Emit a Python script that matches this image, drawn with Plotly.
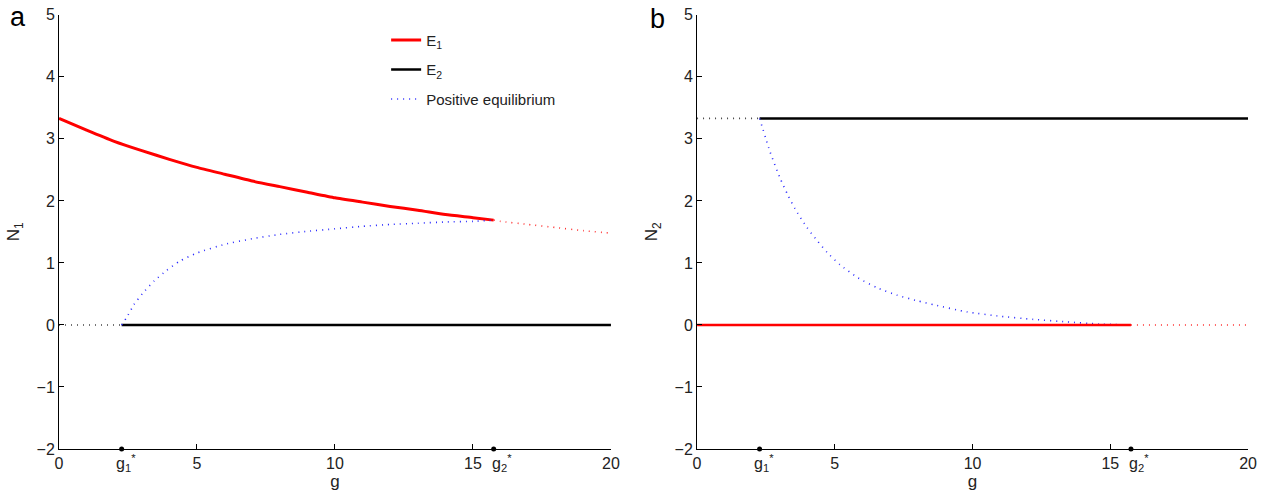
import plotly.graph_objects as go
from plotly.subplots import make_subplots

# critical values
g1_star = 2.27
g2_star = 15.75

# ---- panel a (N1) ----
a_E1_g = [0, 1, 2, 3, 4, 5, 6, 7, 8, 9, 10, 11, 12, 13, 14, 15, 15.75]
a_E1_N = [3.33, 3.14, 2.96, 2.81, 2.67, 2.54, 2.43, 2.32, 2.23, 2.14, 2.05, 1.98, 1.91, 1.85, 1.78, 1.73, 1.69]
a_E1u_g = [15.75, 16, 17, 18, 19, 20]
a_E1u_N = [1.69, 1.67, 1.62, 1.57, 1.52, 1.48]
a_E2_g = [2.27, 20]
a_E2_N = [0, 0]
a_E2u_g = [0, 2.27]
a_E2u_N = [0, 0]
a_P_g = [2.27, 2.45, 2.72, 3.03, 3.45, 3.9, 4.38, 5, 6, 7, 8, 9, 10, 11, 12, 13, 14, 15, 15.75]
a_P_N = [0, 0.12, 0.33, 0.51, 0.71, 0.88, 1.03, 1.16, 1.3, 1.39, 1.46, 1.51, 1.55, 1.59, 1.62, 1.64, 1.66, 1.67, 1.69]

# ---- panel b (N2) ----
b_E2_g = [2.27, 20]
b_E2_N = [3.33, 3.33]
b_E2u_g = [0, 2.27]
b_E2u_N = [3.33, 3.33]
b_E1_g = [0, 15.75]
b_E1_N = [0, 0]
b_E1u_g = [15.75, 20]
b_E1u_N = [0, 0]
b_P_g = [2.27, 2.65, 3.01, 3.3, 3.56, 3.99, 4.36, 4.72, 5.19, 5.84, 6.53, 7.26, 7.99, 8.64, 9.8, 11.0, 12.2, 13.4, 14.6, 15.75]
b_P_N = [3.33, 2.79, 2.37, 2.09, 1.87, 1.57, 1.36, 1.17, 0.97, 0.76, 0.60, 0.48, 0.39, 0.32, 0.21, 0.14, 0.09, 0.05, 0.015, 0]

x_ticks = [0, 5, 10, 15, 20]
y_ticks = [-2, -1, 0, 1, 2, 3, 4, 5]

FONT = "Liberation Sans, Arial, sans-serif"
DOT = "1px,5px"

fig = make_subplots(rows=1, cols=2)

def add(g, n, col, color, width, dash, name=None, show=False, group=None, shape="spline"):
    fig.add_trace(go.Scatter(x=g, y=n, mode="lines",
                             line=dict(color=color, width=width, dash=dash, shape=shape, smoothing=0.5),
                             name=name, showlegend=show, legendgroup=group),
                  row=1, col=col)

# panel a
add(a_E1_g, a_E1_N, 1, "#ff0000", 3, "solid", "E<sub>1</sub>", True, "g1")
add(a_E1u_g, a_E1u_N, 1, "#ff3030", 1.6, DOT)
add(a_E2u_g, a_E2u_N, 1, "#444444", 1.6, DOT, shape="linear")
add(a_E2_g, a_E2_N, 1, "#000000", 2.5, "solid", "E<sub>2</sub>", True, "g2", shape="linear")
add(a_P_g, a_P_N, 1, "#2a2aff", 1.6, DOT, "Positive equilibrium", True, "g3")

# panel b
add(b_E2u_g, b_E2u_N, 2, "#444444", 1.6, DOT, shape="linear")
add(b_E2_g, b_E2_N, 2, "#000000", 2.5, "solid", shape="linear")
add(b_P_g, b_P_N, 2, "#2a2aff", 1.6, DOT)
add(b_E1u_g, b_E1u_N, 2, "#ff3030", 1.6, DOT, shape="linear")
add(b_E1_g, b_E1_N, 2, "#ff0000", 2.5, "solid", shape="linear")

# critical point markers on the g axis
for col in (1, 2):
    fig.add_trace(go.Scatter(x=[g1_star, g2_star], y=[-2, -2], mode="markers",
                             marker=dict(color="black", size=5), showlegend=False,
                             cliponaxis=False), row=1, col=col)

ax_common = dict(showgrid=False, zeroline=False, showline=True, linecolor="black",
                 linewidth=1, ticks="inside", ticklen=5, tickcolor="black", automargin=False,
                 tickfont=dict(family=FONT, size=16, color="#222"))

dom_y = [0.093, 0.970]
tfont = dict(family=FONT, size=17, color="#222")
fig.update_layout(
    xaxis=dict(domain=[0.0466, 0.4826], range=[0, 20], tickvals=x_ticks,
               title=dict(text="g", font=tfont, standoff=2), **ax_common),
    xaxis2=dict(domain=[0.5506, 0.9858], range=[0, 20], tickvals=x_ticks,
                title=dict(text="g", font=tfont, standoff=2), **ax_common),
    yaxis=dict(domain=dom_y, range=[-2, 5], tickvals=y_ticks,
               title=dict(text="N<sub>1</sub>", font=tfont, standoff=12), **ax_common),
    yaxis2=dict(domain=dom_y, range=[-2, 5], tickvals=y_ticks,
                title=dict(text="N<sub>2</sub>", font=tfont, standoff=12), **ax_common),
    plot_bgcolor="white", paper_bgcolor="white",
    margin=dict(l=0, r=0, t=0, b=0, autoexpand=False),
    width=1266, height=495,
    legend=dict(x=0.305, y=0.952, xanchor="left", yanchor="top",
                font=dict(family=FONT, size=15, color="#222"),
                bgcolor="rgba(0,0,0,0)", tracegroupgap=7),
    font=dict(family=FONT, color="#222"),
)

annots = [
    dict(text="a", x=0.014, y=1.0, xref="paper", yref="paper", xanchor="center", yanchor="top",
         showarrow=False, font=dict(family=FONT, size=27, color="black")),
    dict(text="b", x=0.519, y=0.995, xref="paper", yref="paper", xanchor="center", yanchor="top",
         showarrow=False, font=dict(family=FONT, size=27, color="black")),
]
for xr, yr in (("x", "y"), ("x2", "y2")):
    annots.append(dict(text="g<sub>1</sub><sup>*</sup>", x=g1_star, y=-2, xref=xr, yref=yr,
                       yanchor="top", xanchor="center", yshift=-1, xshift=4, showarrow=False,
                       font=dict(family=FONT, size=16, color="#222")))
    annots.append(dict(text="g<sub>2</sub><sup>*</sup>", x=g2_star, y=-2, xref=xr, yref=yr,
                       yanchor="top", xanchor="center", yshift=-1, xshift=8, showarrow=False,
                       font=dict(family=FONT, size=16, color="#222")))
fig.update_layout(annotations=annots)

fig.write_html("out.html", config={"displayModeBar": False},
               post_script="document.body.style.margin='0';")
